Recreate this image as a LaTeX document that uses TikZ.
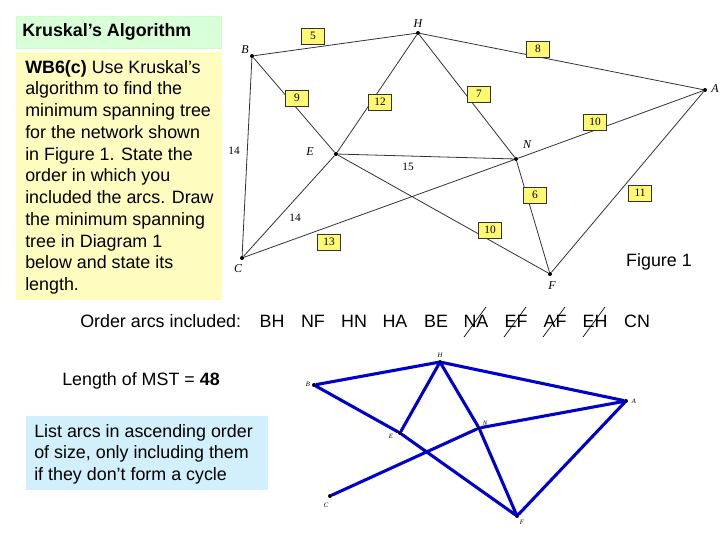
\documentclass[tikz,border=0pt]{standalone}
\usepackage{fontspec}
\setmainfont{Liberation Sans}
\newfontfamily\serifx{Liberation Serif}
\begin{document}
\begin{tikzpicture}[x=0.75pt,y=-0.75pt,
  vx/.style={circle,fill=black,inner sep=0pt,minimum size=3pt},
  lab/.style={font=\serifx\itshape\fontsize{9}{10}\selectfont,inner sep=0pt},
  slab/.style={font=\serifx\itshape\fontsize{5}{6}\selectfont,inner sep=0pt},
  wt/.style={draw=black!80,fill=yellow!55,font=\serifx\fontsize{8.5}{9}\selectfont,minimum width=17pt,minimum height=12pt,inner sep=0pt},
  pw/.style={font=\serifx\fontsize{8.5}{9}\selectfont,inner sep=0pt},
  ed/.style={draw=black!80,line width=0.6pt},
  mst/.style={draw=blue!80!black,line width=2.3pt,line cap=round},
  txt/.style={font=\fontsize{13.4}{16.3}\selectfont,inner sep=0pt}]
\useasboundingbox (0,0) rectangle (720,540);
\fill[white] (0,0) rectangle (720,540);
% boxes
\node[fill=green!15,draw=green!20,minimum width=154pt,minimum height=24pt,inner sep=0pt,anchor=north west] (tbox) at (16,16) {};
\node[anchor=west,inner sep=0pt,font=\bfseries\fontsize{13.4}{14}\selectfont] (title) at (22,32) {Kruskal's Algorithm};
\fill[yellow!25] (16,52) rectangle (222,300);
\node[txt,anchor=north west,align=left] (q) at (25,60) {\textbf{WB6(c)} Use Kruskal's\\algorithm to find the\\minimum spanning tree\\for the network shown\\in Figure 1. State the\\order in which you\\included the arcs. Draw\\the minimum spanning\\tree in Diagram 1\\below and state its\\length.};
\node[fill=cyan!18,anchor=north west,minimum width=181pt,minimum height=55pt,inner sep=0pt] (hintbox) at (26,416) {};
\node[txt,anchor=north west,align=left] (hint) at (34,424) {List arcs in ascending order\\of size, only including them\\if they don't form a cycle};
\node[txt,anchor=west] (len) at (62,381) {Length of MST = \textbf{48}};
\node[txt,anchor=west] (ord) at (80,321) {Order arcs included:};
\foreach \t/\x [count=\i] in {BH/272,NF/313,HN/354,HA/395,BE/436,NA/476,EF/516,AF/555,EH/595,CN/637}
  \node[txt] (o\i) at (\x,321) {\t};
\foreach \i in {6,7,8,9} \draw[line width=0.5pt] ([shift={(-12,16)}]o\i.center) -- ([shift={(10,-14)}]o\i.center);
\node[txt] (fig) at (659,262) {Figure 1};
% top graph
\node[vx] (B) at (252,56) {}; \node[vx] (H) at (418,33) {}; \node[vx] (A) at (705,90) {};
\node[vx] (E) at (336,154) {}; \node[vx] (N) at (516,159) {}; \node[vx] (C) at (242,258) {};
\node[vx] (F) at (550,274) {};
\node[lab] (lB) at (245,50) {B}; \node[lab] (lH) at (418,24) {H}; \node[lab] (lA) at (715,89) {A};
\node[lab] (lE) at (310,152) {E}; \node[lab] (lN) at (527,145) {N}; \node[lab] (lC) at (238,269) {C};
\node[lab] (lF) at (552,286) {F};
\draw[ed] (B)--(H) (H)--(A) (B)--(C) (B)--(E) (E)--(H) (H)--(N) (E)--(N) (N)--(A) (C)--(E) (C)--(N) (E)--(F) (N)--(F) (F)--(A);
\node[wt] (w5) at (313,36) {5}; \node[wt] (w8) at (538,49) {8}; \node[wt] (w9) at (297,98) {9};
\node[wt] (w12) at (380,102) {12}; \node[wt] (w7) at (479,94) {7}; \node[wt] (w10a) at (595,122) {10};
\node[wt] (w6) at (535,195) {6}; \node[wt] (w11) at (640,193) {11}; \node[wt] (w13) at (329,242) {13};
\node[wt] (w10b) at (490,230) {10};
\node[pw] (p14a) at (234,151) {14}; \node[pw] (p15) at (408,167) {15}; \node[pw] (p14b) at (295,218) {14};
% MST diagram
\node[vx] (b) at (314,385) {}; \node[vx] (h) at (440,362) {}; \node[vx] (a) at (626,401) {};
\node[vx] (e) at (400,433) {}; \node[vx] (n) at (479,428) {}; \node[vx] (c) at (330,496) {};
\node[vx] (f) at (517,516) {};
\node[slab] (lb) at (308,384) {B}; \node[slab] (lh) at (440,355) {H}; \node[slab] (la) at (634,401) {A};
\node[slab] (le) at (391,436) {E}; \node[slab] (ln) at (485,423) {N}; \node[slab] (lc) at (326,505) {C};
\node[slab] (lf) at (522,522) {F};
\draw[mst] (b)--(h) (h)--(a) (b)--(e) (e)--(f) (e)--(h) (h)--(n) (n)--(f) (c)--(n) (n)--(a) (a)--(f);
\end{tikzpicture}
\end{document}
